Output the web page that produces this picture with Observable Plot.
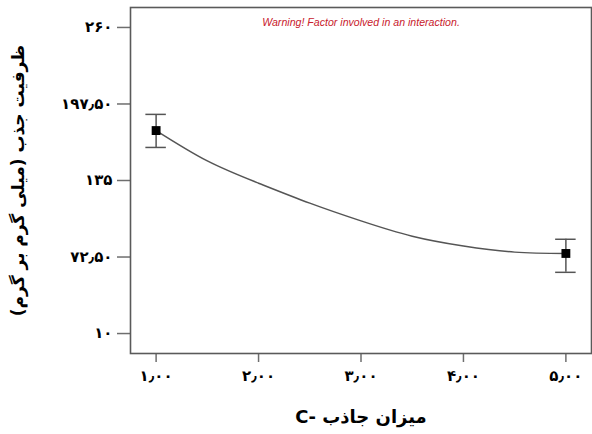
<!DOCTYPE html>
<html>
<head>
<meta charset="utf-8">
<script src="https://cdn.jsdelivr.net/npm/d3@7"></script>
<script src="https://cdn.jsdelivr.net/npm/@observablehq/plot@0.6"></script>
<style>
  body { margin: 0; background: #fff; }
  svg { display: block; }
</style>
</head>
<body>
<div id="chart"></div>
<script>
// Measured points with error bars
const pointX = [1, 5];
const pointY = [175.8, 75.4];
const pointLo = [162, 60];
const pointHi = [189, 87];

// Fitted curve
const curveX = [1, 1.5, 2, 2.5, 3, 3.5, 4, 4.5, 5];
const curveY = [175.8, 151, 132.8, 116.5, 102, 89.5, 81.5, 76.5, 75.4];

// Ticks
const xTicks = [1, 2, 3, 4, 5];
const xTickLabels = ["۱٫۰۰", "۲٫۰۰", "۳٫۰۰", "۴٫۰۰", "۵٫۰۰"];
const yTicks = [10, 72.5, 135, 197.5, 260];
const yTickLabels = ["۱۰", "۷۲٫۵۰", "۱۳۵", "۱۹۷٫۵۰", "۲۶۰"];

const xTitle = "\u202Bمیزان جاذب -C\u202C";
const yTitle = "\u202Bظرفیت جذب (میلی گرم بر گرم)\u202C";
const warning = "Warning! Factor involved in an interaction.";

const points = pointX.map((x, i) => ({x, y: pointY[i], lo: pointLo[i], hi: pointHi[i]}));
const curve = curveX.map((x, i) => ({x, y: curveY[i]}));

const axisColor = "#6e6e6e";
const faFont = "DejaVu Sans";

const chart = Plot.plot({
  width: 592,
  height: 434,
  marginLeft: 130,
  marginRight: 1,
  marginTop: 7,
  marginBottom: 81,
  style: {fontFamily: faFont, background: "#fff", color: "#000"},
  x: {domain: [0.75, 5.25]},
  y: {domain: [-6.3, 276.3]},
  marks: [
    Plot.axisY({
      ticks: yTicks,
      tickFormat: d => yTickLabels[yTicks.indexOf(d)],
      tickSize: 13,
      tickPadding: 5,
      stroke: axisColor,
      strokeWidth: 1.5,
      fill: "#000",
      fontSize: 15,
      fontWeight: "bold",
      label: null
    }),
    Plot.axisX({
      ticks: xTicks,
      tickFormat: d => xTickLabels[xTicks.indexOf(d)],
      tickSize: 9,
      tickPadding: 8,
      stroke: axisColor,
      strokeWidth: 1.5,
      fill: "#000",
      fontSize: 15,
      fontWeight: "bold",
      label: null
    }),
    Plot.frame({stroke: "#5a5a5a", strokeWidth: 1.6}),
    Plot.line(curve, {x: "x", y: "y", curve: "natural", stroke: "#555", strokeWidth: 1.5}),
    Plot.ruleX(points, {x: "x", y1: "lo", y2: "hi", stroke: "#555", strokeWidth: 1.5}),
    Plot.ruleY(points, {y: "hi", x1: d => d.x - 0.1, x2: d => d.x + 0.1, stroke: "#555", strokeWidth: 1.5}),
    Plot.ruleY(points, {y: "lo", x1: d => d.x - 0.1, x2: d => d.x + 0.1, stroke: "#555", strokeWidth: 1.5}),
    Plot.dot(points, {x: "x", y: "y", symbol: "square", r: 5, fill: "#000", stroke: "none"}),
    Plot.text([warning], {frameAnchor: "top", dy: 11, fill: "#c8202c", fontSize: 10.6, fontStyle: "italic", fontFamily: "Liberation Sans"}),
    Plot.text([xTitle], {frameAnchor: "bottom", dy: 69, fontSize: 18, fontWeight: "bold", fill: "#000"}),
    Plot.text([yTitle], {frameAnchor: "left", textAnchor: "middle", dx: -112, rotate: -90, fontSize: 17, fontWeight: "bold", fill: "#000"})
  ]
});

document.getElementById("chart").appendChild(chart);
</script>
</body>
</html>
